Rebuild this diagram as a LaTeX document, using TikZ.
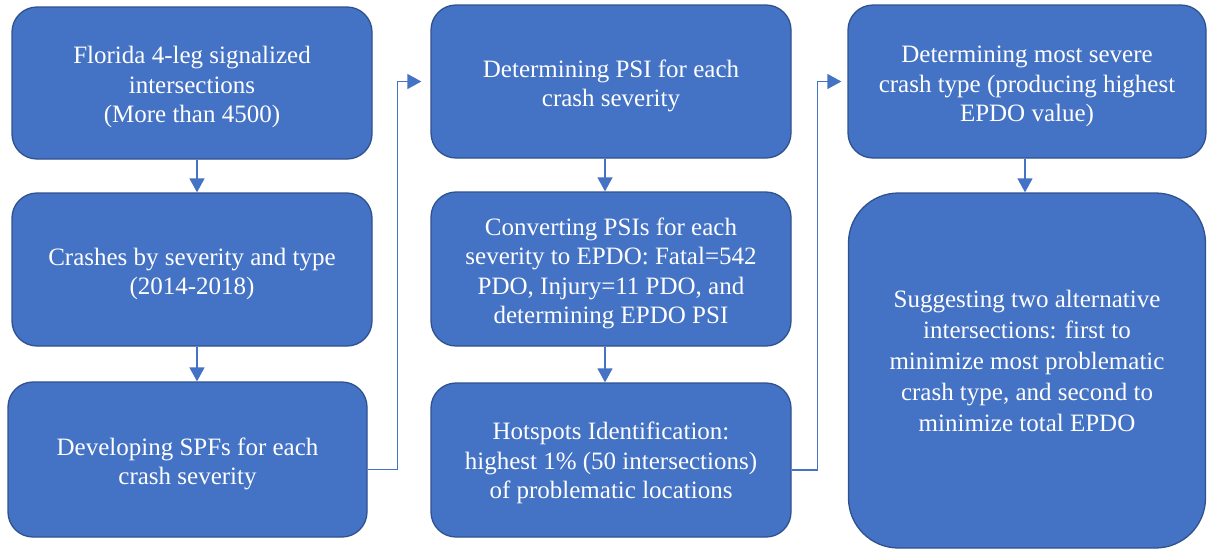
\documentclass[tikz,border=0pt]{standalone}
\usepackage{fontspec}
\setmainfont{Liberation Serif}
\usetikzlibrary{arrows.meta}
\definecolor{boxblue}{HTML}{4472C4}
\definecolor{boxedge}{HTML}{2F528F}
% lines of a box, set a little below the middle
\newcommand{\steptext}[2][-4.5pt]{\raisebox{#1}[\height][\depth]{\begin{tabular}{@{}c@{}}#2\end{tabular}}}
\tikzset{
  stepbox/.style={draw=boxedge, line width=1.3pt, fill=boxblue, rounded corners=25pt,
    text=white, inner sep=0pt,
    font=\fontsize{25}{29.5}\selectfont},
  flow/.style={draw=boxblue, line width=1.4pt, -{Triangle[width=15pt,length=14pt]}}
}
\begin{document}
\begin{tikzpicture}[x=1pt,y=-1pt]
  \useasboundingbox (0,0) rectangle (1207,550);

  % first column
  \node[stepbox, minimum width=360pt, minimum height=152pt] (florida) at (192,83)
    {\steptext{Florida 4-leg signalized\\ intersections\\ (More than 4500)}};
  \node[stepbox, minimum width=360pt, minimum height=153pt] (crashes) at (192,269.5)
    {\steptext{Crashes by severity and type\\ (2014-2018)}};
  \node[stepbox, minimum width=359pt, minimum height=155pt] (spf) at (187.5,459.5)
    {\steptext{Developing SPFs for each\\ crash severity}};

  % second column
  \node[stepbox, minimum width=360pt, minimum height=153pt] (psi) at (611,81.5)
    {\steptext{Determining PSI for each\\ crash severity}};
  \node[stepbox, minimum width=360pt, minimum height=154pt] (epdo) at (611,269)
    {\steptext{Converting PSIs for each\\ severity to EPDO: Fatal=542\\ PDO, Injury=11 PDO, and\\ determining EPDO PSI}};
  \node[stepbox, minimum width=360pt, minimum height=154pt] (hotspot) at (611,460)
    {\steptext[-3.5pt]{Hotspots Identification:\\ highest 1\% (50 intersections)\\ of problematic locations}};

  % third column
  \node[stepbox, minimum width=358pt, minimum height=153pt] (severe) at (1027,81.5)
    {\steptext[-5pt]{Determining most severe\\ crash type (producing highest\\ EPDO value)}};
  \node[stepbox, rounded corners=50pt, minimum width=357pt, minimum height=355pt,
    font=\fontsize{25}{31}\selectfont] (suggest) at (1027,370.5)
    {\steptext[7.5pt]{Suggesting two alternative\\ intersections: first to\\ minimize most problematic\\ crash type, and second to\\ minimize total EPDO}};

  % connectors
  \draw[flow] ([xshift=5pt]florida.south) -- ([xshift=5pt]crashes.north);
  \draw[flow] ([xshift=5pt]crashes.south) -- ([xshift=9.5pt]spf.north);
  \draw[flow] ([xshift=-6pt]psi.south) -- ([xshift=-6pt]epdo.north);
  \draw[flow] ([xshift=-6pt]epdo.south) -- ([xshift=-6pt]hotspot.north);
  \draw[flow] ([xshift=-2pt]severe.south) -- ([xshift=-2pt]suggest.north);
  \draw[flow] ([yshift=-10pt]spf.east) -| ++(30,0) |- ([xshift=-9pt]psi.west);
  \draw[flow] ([yshift=-10pt]hotspot.east) -| ++(26,0) |- ([xshift=-6pt]severe.west);
\end{tikzpicture}
\end{document}
